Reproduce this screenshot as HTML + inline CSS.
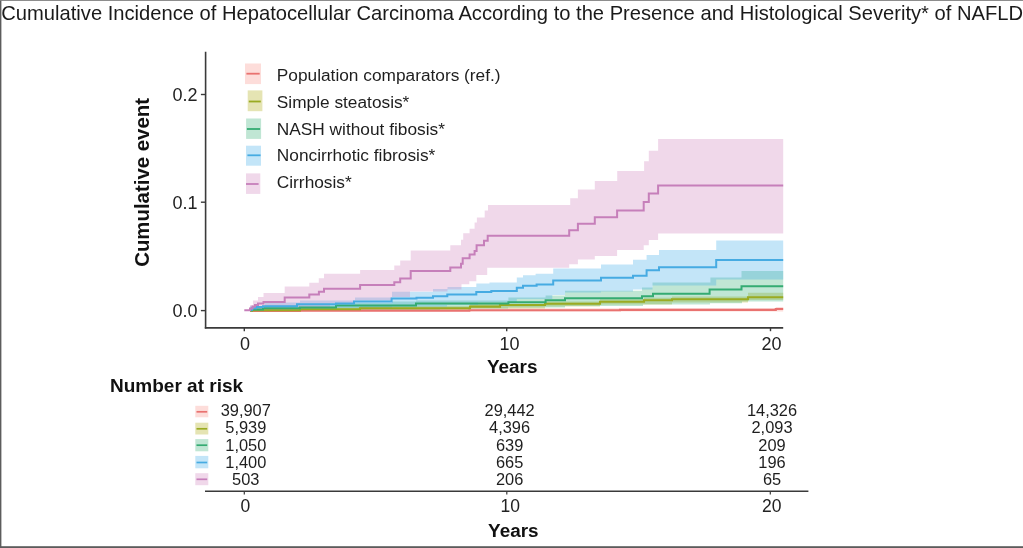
<!DOCTYPE html>
<html><head><meta charset="utf-8"><style>html,body{margin:0;padding:0;background:#fff;overflow:hidden;}svg{display:block;will-change:transform;}</style></head>
<body>
<svg width="1023" height="548" viewBox="0 0 1023 548" font-family='"Liberation Sans", sans-serif' fill="#1a1a1a">
<rect x="0" y="0" width="1023" height="548" fill="#fff"/>
<text x="1.3" y="20" font-size="20.17">Cumulative Incidence of Hepatocellular Carcinoma According to the Presence and Histological Severity* of NAFLD</text>
<g>
<path d="M244.3,310.4H250.0V309.4H469.3V308.3H775.8V307.0H783.2V311.6H775.8V311.5H469.3V311.3H260.0V310.6H244.3Z" fill="#f8766d" fill-opacity="0.25"/>
<path d="M244.3,310.3H250.0V308.8H300.0V307.5H360.0V306.2H470.0V304.0H545.0V301.5H600.0V299.3H644.0V297.8H672.0V296.5H748.0V292.8H783.2V300.0H748.0V302.5H672.0V304.5H600.0V306.5H545.0V308.5H470.0V309.8H360.0V310.5H300.0V310.3H244.3Z" fill="#a8a502" fill-opacity="0.3"/>
<path d="M244.3,310.3H250.0V307.5H263.0V305.5H336.0V303.0H392.0V301.5H416.0V300.5H508.4V297.5H545.6V295.5H565.0V290.8H642.0V287.5H652.5V282.5H710.4V277.4H741.5V271.1H783.2V301.5H742.0V303.3H710.0V304.5H643.0V306.0H565.0V307.5H508.0V308.5H440.0V309.8H330.0V310.3H244.3Z" fill="#2dac70" fill-opacity="0.3"/>
<path d="M244.3,310.3H250.0V306.0H265.0V302.5H300.0V300.5H355.0V297.5H392.0V291.8H433.0V289.1H447.5V287.0H476.3V283.6H489.5V282.4H516.8V277.4H523.0V275.3H535.6V273.7H553.2V268.5H601.0V264.6H633.0V259.7H646.6V255.0H659.0V250.0H716.2V240.6H783.2V279.5H716.2V285.5H652.5V289.5H633.0V291.5H601.0V292.5H565.0V295.0H552.3V299.0H516.8V302.5H478.0V305.0H447.0V306.5H392.0V308.0H330.0V309.0H265.0V310.3H244.3Z" fill="#37a8e8" fill-opacity="0.3"/>
<path d="M244.3,310.3H250.0V305.0H253.0V300.5H258.0V297.0H263.5V293.0H284.7V286.4H309.3V282.8H318.8V278.3H324.0V273.8H360.1V270.1H394.3V265.5H400.2V260.5H410.7V250.5H450.3V245.2H461.0V239.7H463.2V233.3H469.6V228.8H474.6V222.4H476.9V217.4H484.7V210.5H488.0V205.0H570.2V198.2H577.9V189.5H594.8V181.1H617.2V171.1H644.1V161.3H648.8V150.7H658.1V139.0H783.2V233.5H658.1V240.0H648.8V245.2H643.7V249.9H617.1V255.9H594.8V259.4H577.9V264.2H569.2V267.8H487.2V275.0H476.3V281.2H469.3V284.3H461.5V289.5H447.5V291.5H410.0V297.0H392.0V300.5H355.0V303.0H330.0V307.0H300.0V310.3H244.3Z" fill="#cd7db9" fill-opacity="0.3"/>

<path d="M250.0,310.9H300.0V310.6H469.3V310.2H620.0V309.9H775.8V309.0H783.2" fill="none" stroke="#e97270" stroke-width="2.1"/>
<path d="M250.0,310.8H252.0V310.3H300.0V309.3H360.0V308.2H470.0V306.6H500.0V305.0H545.0V303.8H600.0V301.7H644.0V300.2H672.0V299.2H748.0V297.3H783.2" fill="none" stroke="#9aab22" stroke-width="2.1"/>
<path d="M250.0,310.3H252.0V309.5H263.0V308.3H300.0V307.6H336.0V305.4H416.0V303.6H508.4V302.3H545.6V300.2H565.0V298.3H642.0V296.3H653.0V293.8H709.6V289.6H741.5V286.2H783.2" fill="none" stroke="#34ab72" stroke-width="2.0"/>
<path d="M250.0,309.8H252.0V308.3H256.0V307.0H263.0V306.2H297.0V304.2H336.0V303.5H354.0V301.4H391.6V298.6H416.5V297.8H433.0V296.3H447.3V294.4H476.3V292.0H491.3V290.9H516.8V287.8H523.0V285.7H536.6V284.6H553.2V280.6H601.0V277.8H633.0V275.7H646.6V270.3H659.0V267.2H716.2V260.0H783.2" fill="none" stroke="#46abe2" stroke-width="2.0"/>
<path d="M244.3,310.3H250.0V308.5H252.5V306.5H255.0V305.0H258.0V303.5H263.5V302.0H284.7V297.4H309.3V294.6H318.9V291.7H324.0V288.8H360.1V285.1H394.3V282.2H400.2V278.5H410.7V271.1H450.3V267.4H461.0V263.7H462.7V258.3H469.6V254.6H474.6V250.9H476.6V245.2H484.0V240.7H487.7V235.7H569.2V230.2H577.9V223.8H594.8V217.3H617.1V210.4H643.7V202.0H648.8V193.4H658.1V185.4H783.2" fill="none" stroke="#c67fba" stroke-width="2.0"/>

</g>
<line x1="205.6" y1="51.8" x2="205.6" y2="328.6" stroke="#3a3a3a" stroke-width="1.6"/>
<line x1="204.8" y1="327.9" x2="783.2" y2="327.9" stroke="#3a3a3a" stroke-width="1.6"/>
<g stroke="#3a3a3a" stroke-width="1.4">
<line x1="200.9" x2="205.6" y1="94.5" y2="94.5"/><line x1="200.9" x2="205.6" y1="202.2" y2="202.2"/><line x1="200.9" x2="205.6" y1="310.6" y2="310.6"/>
<line x1="244.3" x2="244.3" y1="327.9" y2="331.2"/><line x1="506.7" x2="506.7" y1="327.9" y2="331.2"/><line x1="770.5" x2="770.5" y1="327.9" y2="331.2"/>
</g>
<g font-size="18" fill="#222">
<text x="197.6" y="100.6" text-anchor="end">0.2</text>
<text x="197.6" y="208.8" text-anchor="end">0.1</text>
<text x="197.6" y="317.2" text-anchor="end">0.0</text>
<text x="244.9" y="349.6" text-anchor="middle">0</text>
<text x="509.6" y="349.6" text-anchor="middle">10</text>
<text x="771.4" y="349.6" text-anchor="middle">20</text>
</g>
<text transform="translate(148.6,182.4) rotate(-90)" text-anchor="middle" font-weight="bold" font-size="20.4" fill="#111">Cumulative event</text>
<text x="512.2" y="373.1" text-anchor="middle" font-weight="bold" font-size="18.9" fill="#111">Years</text>
<g fill="#1e1e1e"><rect x="245.0" y="63.5" width="16" height="20.6" fill="#fdddda"/><line x1="246.4" x2="259.7" y1="73.7" y2="73.7" stroke="#e97270" stroke-width="1.8"/><text x="276.8" y="80.8" font-size="17.3">Population comparators (ref.)</text>
<rect x="247.7" y="90.4" width="14.7" height="20.8" fill="#e5e4b3"/><line x1="248.8" x2="260.8" y1="101.5" y2="101.5" stroke="#9aab22" stroke-width="1.8"/><text x="276.8" y="107.6" font-size="17.3">Simple steatosis*</text>
<rect x="246.1" y="118.5" width="15" height="20.4" fill="#c0e6d4"/><line x1="246.9" x2="260.1" y1="129.0" y2="129.0" stroke="#34ab72" stroke-width="1.8"/><text x="276.8" y="134.5" font-size="17.3">NASH without fibosis*</text>
<rect x="246.0" y="145.7" width="15" height="20" fill="#c3e5f8"/><line x1="247.4" x2="260.6" y1="155.3" y2="155.3" stroke="#46abe2" stroke-width="1.8"/><text x="276.8" y="161.4" font-size="17.3">Noncirrhotic fibrosis*</text>
<rect x="246.0" y="173.4" width="14.3" height="20.5" fill="#f0d8ea"/><line x1="246.0" x2="258.6" y1="184.0" y2="184.0" stroke="#c67fba" stroke-width="1.8"/><text x="276.8" y="188.1" font-size="17.3">Cirrhosis*</text>
</g>
<text x="110.0" y="392.4" font-weight="bold" font-size="19" fill="#111">Number at risk</text>
<g font-size="16.4" fill="#1e1e1e"><rect x="195.3" y="405.8" width="13" height="11.5" fill="#fdddda"/><line x1="196.5" x2="207.2" y1="411.8" y2="411.8" stroke="#e97270" stroke-width="1.7"/><text x="245.8" y="416.2" text-anchor="middle">39,907</text><text x="509.6" y="416.2" text-anchor="middle">29,442</text><text x="772" y="416.2" text-anchor="middle">14,326</text>
<rect x="195.3" y="422.7" width="13" height="11.8" fill="#e5e4b3"/><line x1="196.5" x2="207.2" y1="428.8" y2="428.8" stroke="#9aab22" stroke-width="1.7"/><text x="245.8" y="433.3" text-anchor="middle">5,939</text><text x="509.6" y="433.3" text-anchor="middle">4,396</text><text x="772" y="433.3" text-anchor="middle">2,093</text>
<rect x="195.3" y="439.1" width="13" height="12.2" fill="#c0e6d4"/><line x1="196.5" x2="207.2" y1="445.2" y2="445.2" stroke="#34ab72" stroke-width="1.7"/><text x="245.8" y="450.5" text-anchor="middle">1,050</text><text x="509.6" y="450.5" text-anchor="middle">639</text><text x="772" y="450.5" text-anchor="middle">209</text>
<rect x="195.3" y="455.9" width="13" height="12.4" fill="#c3e5f8"/><line x1="196.5" x2="207.2" y1="462.5" y2="462.5" stroke="#46abe2" stroke-width="1.7"/><text x="245.8" y="467.6" text-anchor="middle">1,400</text><text x="509.6" y="467.6" text-anchor="middle">665</text><text x="772" y="467.6" text-anchor="middle">196</text>
<rect x="195.3" y="473.2" width="13" height="12.0" fill="#f0d8ea"/><line x1="196.5" x2="207.2" y1="479.3" y2="479.3" stroke="#c67fba" stroke-width="1.7"/><text x="245.8" y="484.8" text-anchor="middle">503</text><text x="509.6" y="484.8" text-anchor="middle">206</text><text x="772" y="484.8" text-anchor="middle">65</text>
</g>
<line x1="205" y1="491.3" x2="808.4" y2="491.3" stroke="#3a3a3a" stroke-width="1.6"/>
<g stroke="#3a3a3a" stroke-width="1.2">
<line x1="244.3" x2="244.3" y1="491.3" y2="494.5"/><line x1="506.8" x2="506.8" y1="491.3" y2="494.5"/><line x1="770.3" x2="770.3" y1="491.3" y2="494.5"/>
</g>
<g font-size="17.5" fill="#222">
<text x="245.3" y="511.6" text-anchor="middle">0</text>
<text x="510.3" y="511.6" text-anchor="middle">10</text>
<text x="771.8" y="511.6" text-anchor="middle">20</text>
</g>
<text x="513.3" y="537" text-anchor="middle" font-weight="bold" font-size="18.9" fill="#111">Years</text>
<rect x="0" y="0" width="1.4" height="548" fill="#5c5c5c"/>
<rect x="0" y="0" width="1023" height="0.9" fill="#808080"/>
<rect x="0" y="546.2" width="1023" height="1.8" fill="#5c5c5c"/>
</svg>
</body></html>
